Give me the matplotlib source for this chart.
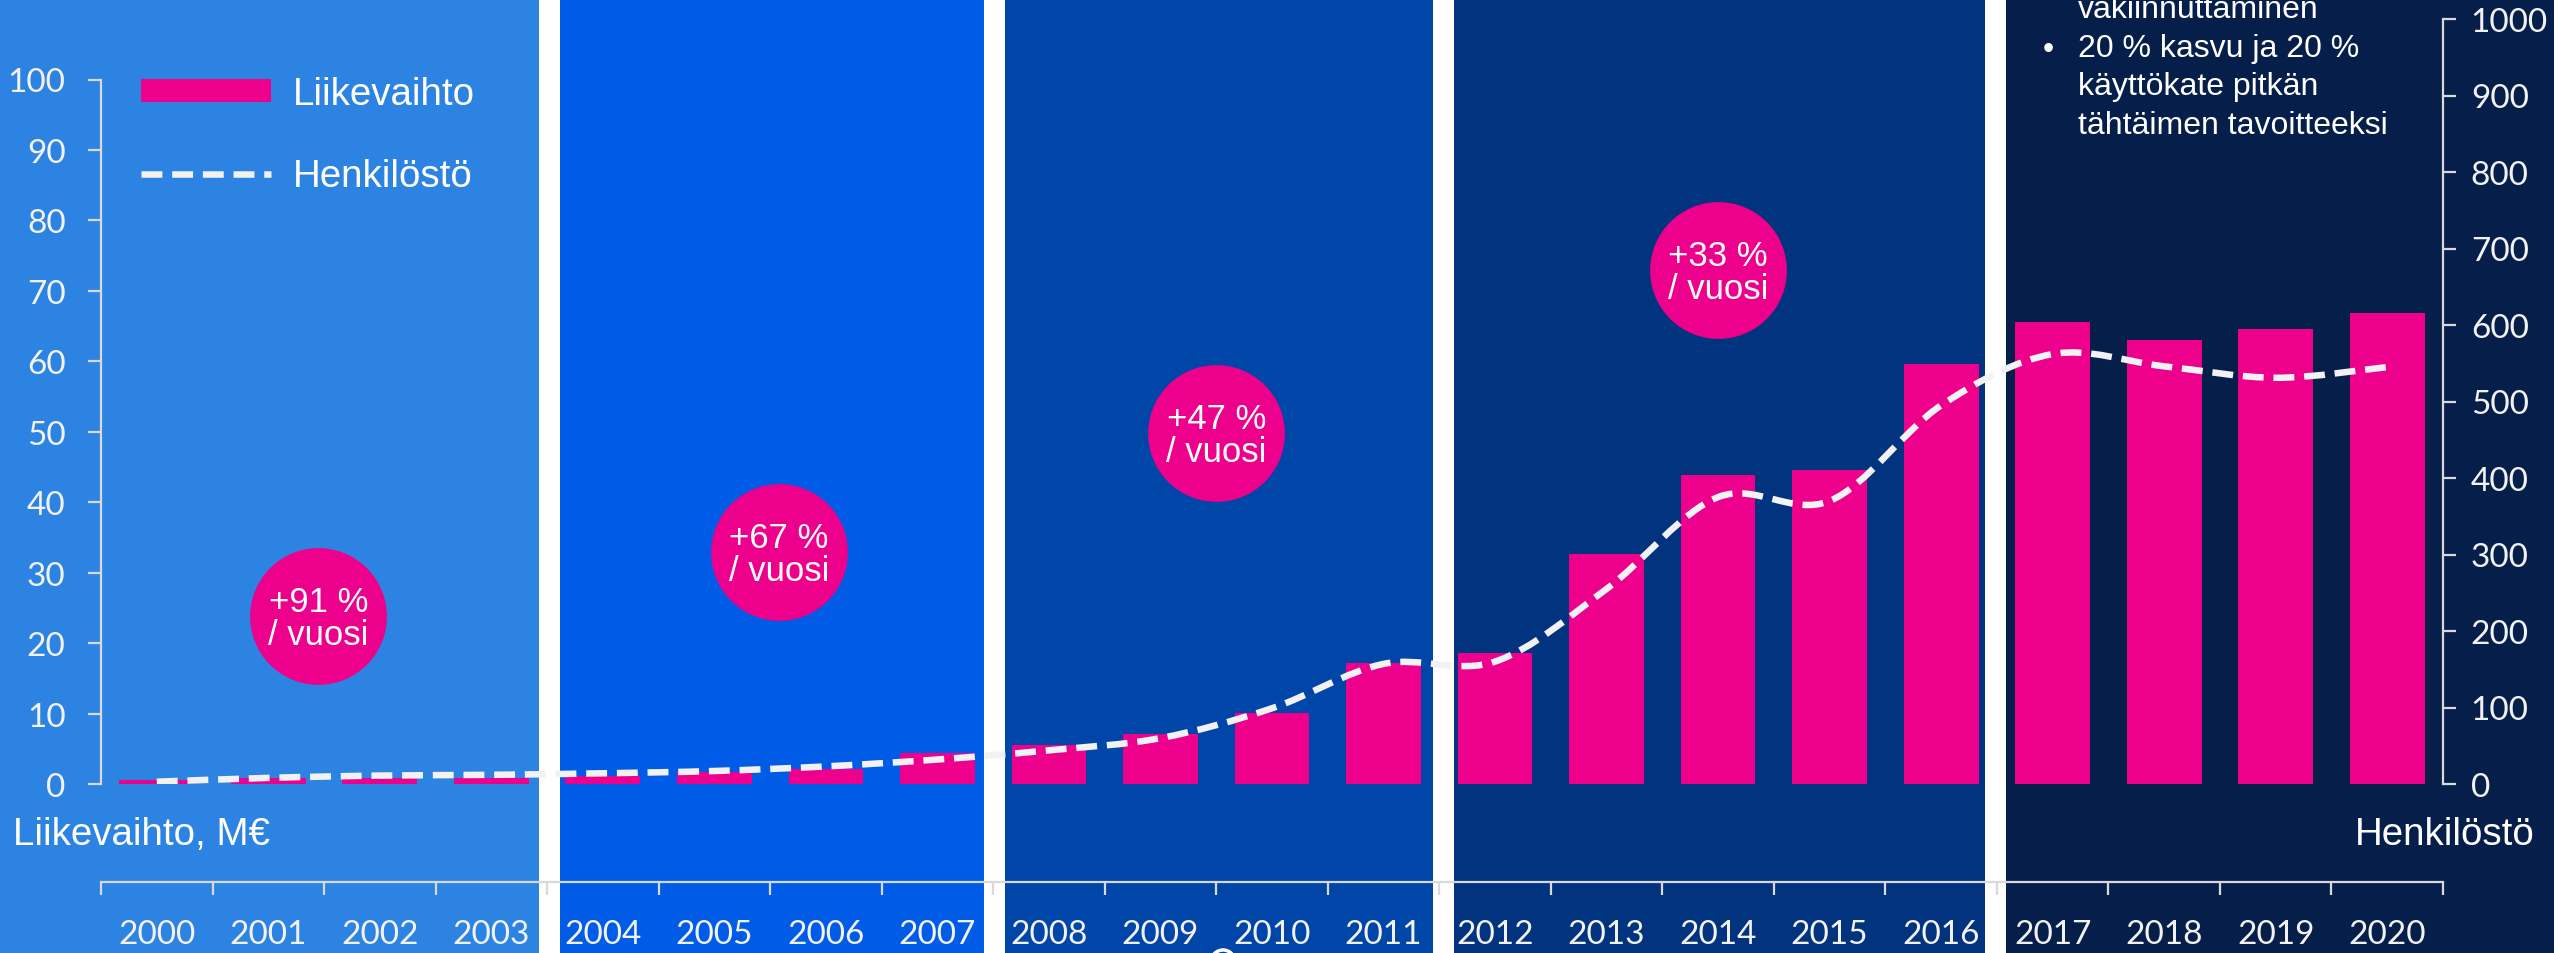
import numpy as np
import matplotlib
matplotlib.use('Agg')
import matplotlib.pyplot as plt
from matplotlib.path import Path
from matplotlib.patches import PathPatch, Patch, Circle
from matplotlib.lines import Line2D

# data
years = [str(y) for y in range(2000, 2021)]
liikevaihto = [0.5, 0.8, 0.8, 0.8, 1.2, 1.7, 2.2, 4.4, 5.5, 7.1, 10.1, 17.2,
               18.6, 32.6, 43.9, 44.6, 59.6, 65.6, 63.0, 64.6, 66.9]  # M€
henkilosto = [3, 8, 11, 12, 14, 17, 23, 32, 44, 60, 99, 157,
              160, 255, 375, 370, 495, 562, 546, 531, 545]
growth_labels = ['+91 %\n/ vuosi', '+67 %\n/ vuosi', '+47 %\n/ vuosi', '+33 %\n/ vuosi']
note_lines = ['vakiinnuttaminen', '20 % kasvu ja 20 %', 'käyttökate pitkän',
              'tähtäimen tavoitteeksi']

# styles / layout
MAGENTA = '#EC008C'
LINE = '#F2F2F2'
AXIS = '#D9D9D9'
panel_colors = ['#2D83E2', '#005CE6', '#0045A8', '#02337E', '#061F4A']
panel_breaks = [3.52, 7.51, 11.54, 16.49]
gap = 0.095
bubble_x = [1.45, 5.58, 9.50, 14.0]
bubble_y = [23.8, 32.9, 49.8, 73.0]
ARIAL = 'Liberation Sans'
TICKF = 'Lato'

W, H = 2554, 954
fig = plt.figure(figsize=(W / 100, H / 100), dpi=100)
fig.patch.set_facecolor('white')
ax = fig.add_axes([101 / W, 169 / H, (2443 - 101) / W, (785 - 20) / H])
ax.patch.set_visible(False)

# background panels, full figure height
edges = [-5] + panel_breaks + [26]
for i, c in enumerate(panel_colors):
    lo = edges[i] + (gap if i > 0 else 0)
    hi = edges[i + 1] - (gap if i < len(panel_colors) - 1 else 0)
    ax.axvspan(lo, hi, ymin=-0.3, ymax=1.1, color=c, lw=0, clip_on=False, zorder=0)

x = np.arange(len(years))
ax.bar(x, liikevaihto, width=0.67, color=MAGENTA, zorder=2)
ax.set_xlim(-0.5, 20.5)
ax.set_ylim(0, 100 * 765 / 704.5)

ax2 = ax.twinx()
ax2.set_ylim(0, 1000)

# smoothed line like excel (bezier, 1/6 tangents)
pts = np.column_stack([x, henkilosto]).astype(float)
verts = [pts[0]]
codes = [Path.MOVETO]
n = len(pts)
for i in range(n - 1):
    p0 = pts[max(i - 1, 0)]
    p3 = pts[min(i + 2, n - 1)]
    c1 = pts[i] + (pts[i + 1] - p0) / 6
    c2 = pts[i + 1] - (p3 - pts[i]) / 6
    verts += [c1, c2, pts[i + 1]]
    codes += [Path.CURVE4] * 3
dash = (0, (3.2, 1.5))
ax2.add_patch(PathPatch(Path(verts, codes), fill=False, edgecolor=LINE, lw=4.7,
                        linestyle=dash, capstyle='butt', zorder=3))

# spines and ticks
for s in ['top', 'right']:
    ax.spines[s].set_visible(False)
for s in ['top', 'left', 'bottom']:
    ax2.spines[s].set_visible(False)
ax.spines['left'].set_bounds(0, 100)
ax.spines['left'].set_color(AXIS)
ax.spines['left'].set_linewidth(1.6)
ax.spines['bottom'].set_position(('outward', 70.5))
ax.spines['bottom'].set_color(AXIS)
ax.spines['bottom'].set_linewidth(1.6)
ax2.spines['right'].set_color(AXIS)
ax2.spines['right'].set_linewidth(1.6)

ax.set_yticks(range(0, 101, 10))
ax.tick_params(axis='y', length=9.5, width=1.6, color=AXIS, pad=16,
               labelsize=24, labelcolor=LINE)
ax2.set_yticks(range(0, 1001, 100))
ax2.tick_params(axis='y', length=9, width=1.6, color=AXIS, pad=11,
                labelsize=24, labelcolor=LINE)
ax.set_xticks(np.arange(-0.5, 21, 1))
ax.set_xticklabels([])
ax.set_xticks(x, years, minor=True)
ax.tick_params(axis='x', which='major', length=9.5, width=1.6, color=AXIS)
ax.tick_params(axis='x', which='minor', length=0, pad=26.5, labelsize=24,
               labelcolor=LINE)
for t in ax.get_yticklabels() + ax2.get_yticklabels() + ax.get_xticklabels(minor=True):
    t.set_fontfamily(TICKF)

# growth bubbles
ax.scatter(bubble_x, bubble_y, s=98.5 ** 2, color=MAGENTA, lw=0, zorder=4, clip_on=False)
for bx, by, lab in zip(bubble_x, bubble_y, growth_labels):
    ax.text(bx, by - 0.3, lab, ha='center', va='center', color='white', fontsize=25,
            family=ARIAL, linespacing=1.0, zorder=5)

# legend
handles = [Patch(facecolor=MAGENTA, edgecolor='none'),
           Line2D([], [], color=LINE, lw=4.7, linestyle=dash)]
leg = ax.legend(handles, ['Liikevaihto', 'Henkilöstö'], loc='upper left',
                bbox_to_anchor=(141 / W, 1 - 77 / H), bbox_transform=fig.transFigure,
                frameon=False, labelcolor='white', handlelength=3.38,
                handleheight=0.52, handletextpad=0.57, labelspacing=1.2,
                borderpad=0, borderaxespad=0, prop={'family': ARIAL, 'size': 27.7})

# axis titles
fig.text(13 / W, 1 - 845 / H, 'Liikevaihto, M€', color='white', fontsize=27.7,
         family=ARIAL, va='baseline', ha='left')
fig.text(2535 / W, 1 - 845 / H, 'Henkilöstö', color='white', fontsize=27.7,
         family=ARIAL, va='baseline', ha='right')

# note text in top right panel (cut at the top)
for k, line in enumerate(note_lines):
    fig.text(2078 / W, 1 - (18 + 38.7 * k) / H, line, color='white', fontsize=23,
             family=ARIAL, va='baseline', ha='left')
fig.text(2048 / W, 1 - 58 / H, '•', color='white', fontsize=23, family=ARIAL,
         va='baseline', ha='center')

# bit of a white ring peeking in at the bottom
fig.patches.append(Circle((12.23, -0.09), 0.12, transform=fig.dpi_scale_trans,
                          fill=False, edgecolor='white', lw=2.5))

fig.savefig('out.png', dpi=100, facecolor='white')
